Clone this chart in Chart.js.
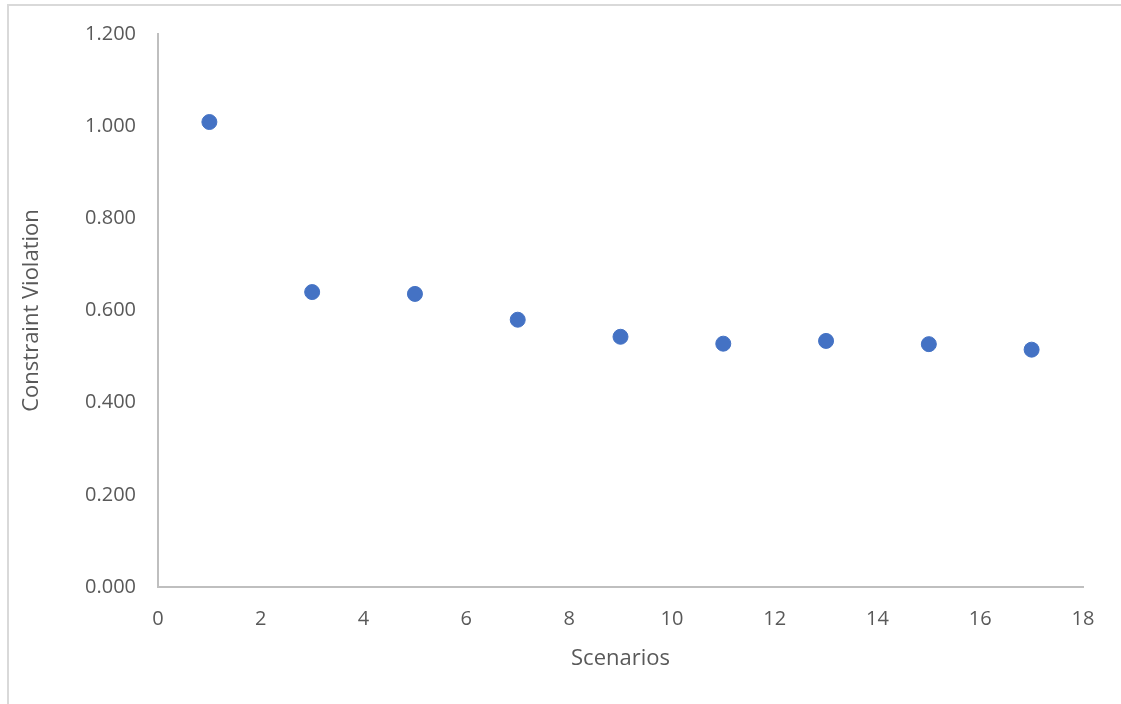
<!DOCTYPE html>
<html>
<head>
<meta charset="utf-8">
<script src="https://cdn.jsdelivr.net/npm/chart.js@4/dist/chart.umd.min.js"></script>
<style>
  html, body { margin: 0; padding: 0; background: #fff; overflow: hidden; }
  #frame { position: absolute; left: 7px; top: 4px; width: 1130px; height: 720px;
           border: 2px solid #d9d9d9; box-sizing: border-box; }
  #wrap { position: absolute; left: 0; top: 0; width: 1121px; height: 704px; }
</style>
</head>
<body>
<div id="frame"></div>
<div id="wrap"><canvas id="grafico"></canvas></div>
<script>
const scenarios = [1, 3, 5, 7, 9, 11, 13, 15, 17];
const violation = [1.009, 0.640, 0.636, 0.580, 0.543, 0.528, 0.534, 0.527, 0.515];

const pontos = scenarios.map((s, i) => ({ x: s, y: violation[i] }));
const corTexto = "#595959";
const fonte = "'Open Sans', 'Liberation Sans', sans-serif";

new Chart(document.getElementById("grafico"), {
  type: "scatter",
  data: {
    datasets: [{
      label: "Constraint Violation",
      data: pontos,
      backgroundColor: "#4472C4",
      borderColor: "#4472C4",
      pointRadius: 7.5,
      pointHoverRadius: 7.5,
    }],
  },
  options: {
    responsive: true,
    maintainAspectRatio: false,
    animation: false,
    layout: { padding: { left: 0, top: 34, right: 38, bottom: 0 } },
    plugins: { legend: { display: false }, tooltip: { enabled: false } },
    scales: {
      x: {
        type: "linear",
        min: 0, max: 18,
        ticks: { stepSize: 2, color: corTexto, font: { family: fonte, size: 20 }, padding: 20 },
        grid: { display: false, drawTicks: false },
        border: { color: "#bfbfbf", width: 2 },
        title: { display: true, text: "Scenarios", color: corTexto, font: { family: fonte, size: 22 }, padding: { top: 4, bottom: 32 } },
        afterFit: (s) => { s.height = 117; },
      },
      y: {
        min: 0, max: 1.2,
        ticks: { stepSize: 0.2, color: corTexto, font: { family: fonte, size: 20 }, padding: 22,
                 callback: (v) => v.toFixed(3) },
        grid: { display: false, drawTicks: false },
        border: { color: "#bfbfbf", width: 2 },
        title: { display: true, text: "Constraint Violation", color: corTexto, font: { family: fonte, size: 22 }, padding: { top: 19, bottom: 4 } },
        afterFit: (s) => { s.width = 158; },
      },
    },
  },
});
</script>
</body>
</html>
